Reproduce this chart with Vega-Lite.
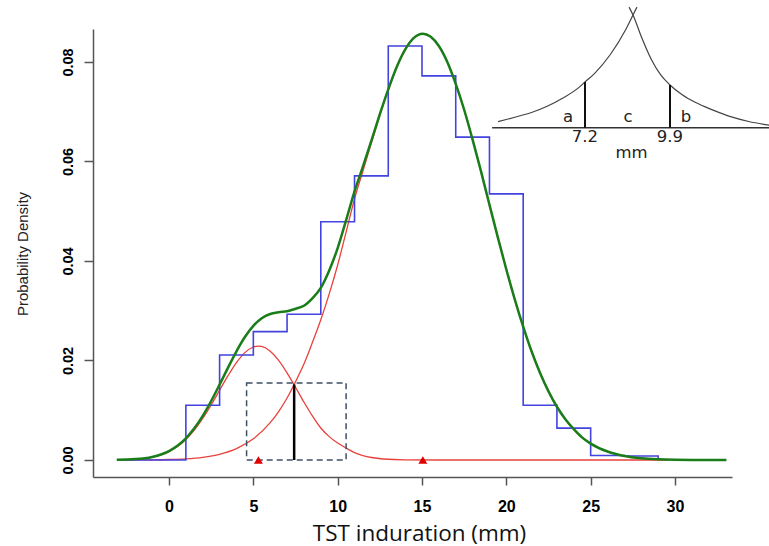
{
  "$schema": "https://vega.github.io/schema/vega-lite/v6.json",
  "width": 639,
  "height": 448,
  "autosize": "none",
  "padding": {"left": 93, "top": 29, "right": 37, "bottom": 69},
  "background": "white",
  "config": {
    "view": {"stroke": null},
    "axisX": {
      "grid": false,
      "tickSize": 8, "labelPadding": 13, "labelFont": "Liberation Sans", "labelFontSize": 16,
      "labelFontWeight": "bold", "labelColor": "#000", "labelFlush": false, "labelOverlap": false,
      "domainColor": "#555", "domainWidth": 1.5, "tickColor": "#555", "tickWidth": 1.5,
      "titleFont": "Open Sans", "titleFontSize": 22.5, "titleFontWeight": "normal", "titleColor": "#111",
      "titleX": 326, "titleY": 63, "titleBaseline": "alphabetic", "titleAlign": "center"
    },
    "axisY": {
      "grid": false, "tickSize": 9, "labelPadding": 12, "labelAngle": -90,
      "labelAlign": "center", "labelBaseline": "alphabetic",
      "labelFont": "Liberation Sans", "labelFontSize": 14.5, "labelFontWeight": "bold",
      "labelColor": "#000", "labelFlush": false, "labelOverlap": false,
      "domainColor": "#555", "domainWidth": 1.5, "tickColor": "#555", "tickWidth": 1.5,
      "titleFont": "Liberation Sans", "titleFontSize": 15, "titleFontWeight": "normal",
      "titleColor": "#222", "titleAngle": -90, "titleX": -65.5, "titleY": 224.5,
      "titleBaseline": "alphabetic", "titleAlign": "center"
    }
  },
  "datasets": {
    "hist": [
      {"x": -3, "density": 0}, {"x": -1, "density": 0}, {"x": 1, "density": 0.011},
      {"x": 3, "density": 0.0211}, {"x": 5, "density": 0.0258}, {"x": 7, "density": 0.0293},
      {"x": 9, "density": 0.0479}, {"x": 11, "density": 0.0571}, {"x": 13, "density": 0.0832},
      {"x": 15, "density": 0.0772}, {"x": 17, "density": 0.0649}, {"x": 19, "density": 0.0535},
      {"x": 21, "density": 0.011}, {"x": 23, "density": 0.0064}, {"x": 25, "density": 0.0009},
      {"x": 27, "density": 0.0008}, {"x": 29, "density": 0}
    ],
    "comp": [
      {"component": "low", "x": -3, "density": 0.00004}, {"component": "low", "x": -2, "density": 0.00016},
      {"component": "low", "x": -1, "density": 0.00058}, {"component": "low", "x": 0, "density": 0.00169},
      {"component": "low", "x": 0.5, "density": 0.0027}, {"component": "low", "x": 1, "density": 0.00412},
      {"component": "low", "x": 1.5, "density": 0.006}, {"component": "low", "x": 2, "density": 0.00834},
      {"component": "low", "x": 2.5, "density": 0.01107}, {"component": "low", "x": 3, "density": 0.01402},
      {"component": "low", "x": 3.5, "density": 0.01695}, {"component": "low", "x": 4, "density": 0.01958},
      {"component": "low", "x": 4.5, "density": 0.02158}, {"component": "low", "x": 5, "density": 0.02271},
      {"component": "low", "x": 5.3, "density": 0.0229}, {"component": "low", "x": 5.5, "density": 0.02282},
      {"component": "low", "x": 6, "density": 0.02188}, {"component": "low", "x": 6.5, "density": 0.02004},
      {"component": "low", "x": 7, "density": 0.01752}, {"component": "low", "x": 7.5, "density": 0.01462},
      {"component": "low", "x": 8, "density": 0.01165}, {"component": "low", "x": 8.5, "density": 0.00886},
      {"component": "low", "x": 9, "density": 0.00643}, {"component": "low", "x": 9.5, "density": 0.0047},
      {"component": "low", "x": 10, "density": 0.0034}, {"component": "low", "x": 10.5, "density": 0.0024},
      {"component": "low", "x": 11, "density": 0.0015}, {"component": "low", "x": 11.5, "density": 0.0009},
      {"component": "low", "x": 12, "density": 0.0005}, {"component": "low", "x": 12.7, "density": 0.0002},
      {"component": "low", "x": 14, "density": 0.00003}, {"component": "low", "x": 16, "density": 0},
      {"component": "low", "x": 20, "density": 0}, {"component": "low", "x": 25, "density": 0},
      {"component": "low", "x": 29.6, "density": 0},
      {"component": "high", "x": -3, "density": 0.00001}, {"component": "high", "x": -2, "density": 0.00002},
      {"component": "high", "x": -1, "density": 0.00004}, {"component": "high", "x": 0, "density": 0.0001},
      {"component": "high", "x": 1, "density": 0.00024}, {"component": "high", "x": 2, "density": 0.00054},
      {"component": "high", "x": 3, "density": 0.00114}, {"component": "high", "x": 4, "density": 0.00227},
      {"component": "high", "x": 5, "density": 0.00425}, {"component": "high", "x": 6, "density": 0.0075},
      {"component": "high", "x": 6.5, "density": 0.00974}, {"component": "high", "x": 7, "density": 0.01247},
      {"component": "high", "x": 7.5, "density": 0.01574}, {"component": "high", "x": 8, "density": 0.0193},
      {"component": "high", "x": 8.5, "density": 0.0236}, {"component": "high", "x": 9, "density": 0.0282},
      {"component": "high", "x": 9.5, "density": 0.0334}, {"component": "high", "x": 10, "density": 0.0392},
      {"component": "high", "x": 10.5, "density": 0.0458}, {"component": "high", "x": 11, "density": 0.0525},
      {"component": "high", "x": 11.5, "density": 0.0581}, {"component": "high", "x": 12, "density": 0.0637},
      {"component": "high", "x": 12.5, "density": 0.0693}, {"component": "high", "x": 13, "density": 0.0744},
      {"component": "high", "x": 13.5, "density": 0.0789}, {"component": "high", "x": 14, "density": 0.0825},
      {"component": "high", "x": 14.5, "density": 0.0848}, {"component": "high", "x": 15.05, "density": 0.0857},
      {"component": "high", "x": 15.5, "density": 0.08513}, {"component": "high", "x": 16, "density": 0.0832},
      {"component": "high", "x": 16.5, "density": 0.07998}, {"component": "high", "x": 17, "density": 0.07563},
      {"component": "high", "x": 17.5, "density": 0.07035}, {"component": "high", "x": 18, "density": 0.06438},
      {"component": "high", "x": 18.5, "density": 0.05795}, {"component": "high", "x": 19, "density": 0.05131},
      {"component": "high", "x": 19.5, "density": 0.04469}, {"component": "high", "x": 20, "density": 0.0383},
      {"component": "high", "x": 20.5, "density": 0.03228}, {"component": "high", "x": 21, "density": 0.02677},
      {"component": "high", "x": 21.5, "density": 0.02183}, {"component": "high", "x": 22, "density": 0.01752},
      {"component": "high", "x": 22.5, "density": 0.01382}, {"component": "high", "x": 23, "density": 0.01073},
      {"component": "high", "x": 23.5, "density": 0.00819}, {"component": "high", "x": 24, "density": 0.00616},
      {"component": "high", "x": 25, "density": 0.00331}, {"component": "high", "x": 26, "density": 0.00166},
      {"component": "high", "x": 27, "density": 0.00078}, {"component": "high", "x": 28, "density": 0.00035},
      {"component": "high", "x": 29, "density": 0.00014}, {"component": "high", "x": 29.6, "density": 0.00008}
    ],
    "mixture": [
      {"x": -3.1, "density": 0.00004}, {"x": -2, "density": 0.00018}, {"x": -1, "density": 0.00062},
      {"x": 0, "density": 0.0018}, {"x": 0.5, "density": 0.00285}, {"x": 1, "density": 0.00436},
      {"x": 1.5, "density": 0.00636}, {"x": 2, "density": 0.00888}, {"x": 2.5, "density": 0.01186},
      {"x": 3, "density": 0.01516}, {"x": 3.5, "density": 0.01857}, {"x": 4, "density": 0.02185},
      {"x": 4.5, "density": 0.02471}, {"x": 5, "density": 0.02696}, {"x": 5.5, "density": 0.0285},
      {"x": 6, "density": 0.02935}, {"x": 6.5, "density": 0.0297}, {"x": 7, "density": 0.0299},
      {"x": 7.5, "density": 0.0304}, {"x": 8, "density": 0.031}, {"x": 8.5, "density": 0.0325},
      {"x": 9, "density": 0.0346}, {"x": 9.5, "density": 0.0381}, {"x": 10, "density": 0.0426},
      {"x": 10.5, "density": 0.0482}, {"x": 11, "density": 0.054}, {"x": 11.5, "density": 0.059},
      {"x": 12, "density": 0.0642}, {"x": 12.5, "density": 0.0695}, {"x": 13, "density": 0.0745},
      {"x": 13.5, "density": 0.079}, {"x": 14, "density": 0.0825}, {"x": 14.5, "density": 0.0848},
      {"x": 15.05, "density": 0.0857}, {"x": 15.5, "density": 0.0851}, {"x": 16, "density": 0.0832},
      {"x": 16.5, "density": 0.08}, {"x": 17, "density": 0.0756}, {"x": 17.5, "density": 0.0704},
      {"x": 18, "density": 0.0644}, {"x": 18.5, "density": 0.058}, {"x": 19, "density": 0.0513},
      {"x": 19.5, "density": 0.0447}, {"x": 20, "density": 0.0383}, {"x": 20.5, "density": 0.0323},
      {"x": 21, "density": 0.0268}, {"x": 21.5, "density": 0.0218}, {"x": 22, "density": 0.0175},
      {"x": 22.5, "density": 0.0138}, {"x": 23, "density": 0.0107}, {"x": 23.5, "density": 0.0082},
      {"x": 24, "density": 0.0062}, {"x": 24.5, "density": 0.0045}, {"x": 25, "density": 0.0033},
      {"x": 26, "density": 0.0017}, {"x": 27, "density": 0.0008}, {"x": 28, "density": 0.00035},
      {"x": 29, "density": 0.00014}, {"x": 30, "density": 0.00005}, {"x": 31, "density": 0.00002},
      {"x": 33.05, "density": 0}
    ],
    "means": [{"x": 5.3, "density": 0}, {"x": 15.05, "density": 0}],
    "box": [{"x": 4.6, "x2": 10.5, "density": 0, "density2": 0.0155}],
    "cut": [{"x": 7.42, "density": 0, "density2": 0.0152}],
    "inset_base": [{"x": 19.158, "density": 0.06679}, {"x": 35.582, "density": 0.06679}],
    "inset_curve": [
      {"side": "left", "x": 19.513, "density": 0.068}, {"side": "left", "x": 20.558, "density": 0.06895},
      {"side": "left", "x": 21.491, "density": 0.06985}, {"side": "left", "x": 22.424, "density": 0.0711},
      {"side": "left", "x": 23.358, "density": 0.07275}, {"side": "left", "x": 24.291, "density": 0.07484},
      {"side": "left", "x": 24.664, "density": 0.07597}, {"side": "left", "x": 25.224, "density": 0.07767},
      {"side": "left", "x": 26.157, "density": 0.08145}, {"side": "left", "x": 27.09, "density": 0.08659},
      {"side": "left", "x": 27.51, "density": 0.08945}, {"side": "left", "x": 27.744, "density": 0.09103},
      {"side": "right", "x": 27.277, "density": 0.09103}, {"side": "right", "x": 27.51, "density": 0.08945},
      {"side": "right", "x": 28.024, "density": 0.08492}, {"side": "right", "x": 28.583, "density": 0.08061},
      {"side": "right", "x": 29.143, "density": 0.07744}, {"side": "right", "x": 29.703, "density": 0.07538},
      {"side": "right", "x": 30.45, "density": 0.07336}, {"side": "right", "x": 31.196, "density": 0.07189},
      {"side": "right", "x": 32.26, "density": 0.07033}, {"side": "right", "x": 33.249, "density": 0.06906},
      {"side": "right", "x": 34.369, "density": 0.06804}, {"side": "right", "x": 35.582, "density": 0.06729}
    ],
    "inset_cuts": [{"x": 24.664, "density": 0.06679, "density2": 0.07597}, {"x": 29.703, "density": 0.06679, "density2": 0.07538}],
    "inset_labels": [
      {"x": 23.656, "density": 0.06793, "label": "a"},
      {"x": 27.221, "density": 0.06793, "label": "c"},
      {"x": 30.655, "density": 0.06793, "label": "b"},
      {"x": 24.664, "density": 0.06392, "label": "7.2"},
      {"x": 29.703, "density": 0.06392, "label": "9.9"},
      {"x": 27.426, "density": 0.0607, "label": "mm"}
    ]
  },
  "layer": [
    {
      "data": {"name": "comp"},
      "mark": {"type": "line", "color": "#e8413c", "strokeWidth": 1.3, "interpolate": "monotone"},
      "encoding": {
        "x": {"field": "x", "type": "quantitative", "title": "TST induration (mm)",
              "scale": {"domain": [-4.506, 33.38], "nice": false, "zero": false},
              "axis": {"values": [0, 5, 10, 15, 20, 25, 30]}},
        "y": {"field": "density", "type": "quantitative", "title": "Probability Density",
              "scale": {"domain": [-0.003417, 0.08663], "nice": false, "zero": false},
              "axis": {"values": [0, 0.02, 0.04, 0.06, 0.08], "format": ".2f"}},
        "detail": {"field": "component", "type": "nominal"}
      }
    },
    {
      "data": {"name": "hist"},
      "mark": {"type": "line", "color": "#4343e0", "strokeWidth": 1.6, "interpolate": "step-after"},
      "encoding": {
        "x": {"field": "x", "type": "quantitative", "title": "TST induration (mm)", "axis": {"values": [0, 5, 10, 15, 20, 25, 30]}},
        "y": {"field": "density", "type": "quantitative", "title": "Probability Density", "axis": {"values": [0, 0.02, 0.04, 0.06, 0.08], "format": ".2f"}}
      }
    },
    {
      "data": {"name": "mixture"},
      "mark": {"type": "line", "color": "#1a7d1a", "strokeWidth": 2.5, "interpolate": "monotone"},
      "encoding": {
        "x": {"field": "x", "type": "quantitative", "title": "TST induration (mm)", "axis": {"values": [0, 5, 10, 15, 20, 25, 30]}},
        "y": {"field": "density", "type": "quantitative", "title": "Probability Density", "axis": {"values": [0, 0.02, 0.04, 0.06, 0.08], "format": ".2f"}}
      }
    },
    {
      "data": {"name": "box"},
      "mark": {"type": "rect", "fill": null, "fillOpacity": 0, "stroke": "#3e4f66", "strokeWidth": 1.5, "strokeDash": [6, 4]},
      "encoding": {
        "x": {"field": "x", "type": "quantitative", "title": "TST induration (mm)", "axis": {"values": [0, 5, 10, 15, 20, 25, 30]}},
        "x2": {"field": "x2"},
        "y": {"field": "density", "type": "quantitative", "title": "Probability Density", "axis": {"values": [0, 0.02, 0.04, 0.06, 0.08], "format": ".2f"}},
        "y2": {"field": "density2"}
      }
    },
    {
      "data": {"name": "cut"},
      "mark": {"type": "rule", "color": "#000", "strokeWidth": 2.5},
      "encoding": {
        "x": {"field": "x", "type": "quantitative", "title": "TST induration (mm)", "axis": {"values": [0, 5, 10, 15, 20, 25, 30]}},
        "y": {"field": "density", "type": "quantitative", "title": "Probability Density", "axis": {"values": [0, 0.02, 0.04, 0.06, 0.08], "format": ".2f"}},
        "y2": {"field": "density2"}
      }
    },
    {
      "data": {"name": "means"},
      "mark": {"type": "point", "shape": "triangle-up", "filled": true, "color": "#e00000", "size": 80, "opacity": 1},
      "encoding": {
        "x": {"field": "x", "type": "quantitative", "title": "TST induration (mm)", "axis": {"values": [0, 5, 10, 15, 20, 25, 30]}},
        "y": {"field": "density", "type": "quantitative", "title": "Probability Density", "axis": {"values": [0, 0.02, 0.04, 0.06, 0.08], "format": ".2f"}}
      }
    },
    {
      "data": {"name": "inset_base"},
      "mark": {"type": "line", "color": "#333", "strokeWidth": 1.5},
      "encoding": {
        "x": {"field": "x", "type": "quantitative", "title": "TST induration (mm)", "axis": {"values": [0, 5, 10, 15, 20, 25, 30]}},
        "y": {"field": "density", "type": "quantitative", "title": "Probability Density", "axis": {"values": [0, 0.02, 0.04, 0.06, 0.08], "format": ".2f"}}
      }
    },
    {
      "data": {"name": "inset_curve"},
      "mark": {"type": "line", "color": "#444", "strokeWidth": 1.2, "interpolate": "monotone"},
      "encoding": {
        "x": {"field": "x", "type": "quantitative", "title": "TST induration (mm)", "axis": {"values": [0, 5, 10, 15, 20, 25, 30]}},
        "y": {"field": "density", "type": "quantitative", "title": "Probability Density", "axis": {"values": [0, 0.02, 0.04, 0.06, 0.08], "format": ".2f"}},
        "detail": {"field": "side", "type": "nominal"}
      }
    },
    {
      "data": {"name": "inset_cuts"},
      "mark": {"type": "rule", "color": "#111", "strokeWidth": 2},
      "encoding": {
        "x": {"field": "x", "type": "quantitative", "title": "TST induration (mm)", "axis": {"values": [0, 5, 10, 15, 20, 25, 30]}},
        "y": {"field": "density", "type": "quantitative", "title": "Probability Density", "axis": {"values": [0, 0.02, 0.04, 0.06, 0.08], "format": ".2f"}},
        "y2": {"field": "density2"}
      }
    },
    {
      "data": {"name": "inset_labels"},
      "mark": {"type": "text", "font": "DejaVu Sans", "fontSize": 16.5, "color": "#222", "align": "center", "baseline": "alphabetic"},
      "encoding": {
        "x": {"field": "x", "type": "quantitative", "title": "TST induration (mm)", "axis": {"values": [0, 5, 10, 15, 20, 25, 30]}},
        "y": {"field": "density", "type": "quantitative", "title": "Probability Density", "axis": {"values": [0, 0.02, 0.04, 0.06, 0.08], "format": ".2f"}},
        "text": {"field": "label", "type": "nominal"}
      }
    }
  ]
}
